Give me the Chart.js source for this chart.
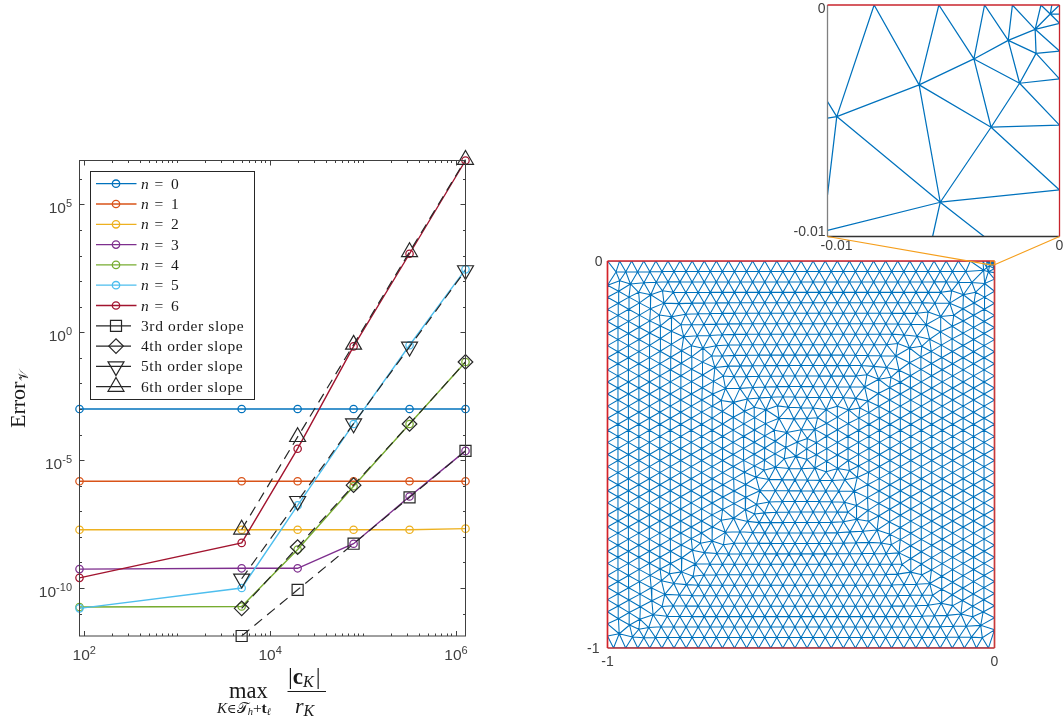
<!DOCTYPE html>
<html>
<head>
<meta charset="utf-8">
<title>Error against max |c_K|/r_K, with mesh</title>
<script src="https://cdn.jsdelivr.net/npm/chart.js@4"></script>
<style>
  html, body { margin: 0; padding: 0; background: #fff; }
  #page { position: relative; width: 1063px; height: 720px; overflow: hidden; }
  canvas { position: absolute; left: 0; top: 0; }
</style>
</head>
<body>
<div id="page">
  <canvas id="errorCanvas" width="1063" height="720"></canvas>
  <canvas id="meshCanvas" width="1063" height="720"></canvas>
  <canvas id="insetCanvas" width="1063" height="720"></canvas>
</div>
<script>
// 1. Error plot data
const ratios = [90, 5000, 20000, 80000, 320000, 1280000];

const errorN0 = [1e-3, 1e-3, 1e-3, 1e-3, 1e-3, 1e-3];
const errorN1 = [1.5e-6, 1.5e-6, 1.5e-6, 1.5e-6, 1.5e-6, 1.5e-6];
const errorN2 = [1.9e-8, 1.9e-8, 1.9e-8, 1.9e-8, 1.9e-8, 2.1e-8];
const errorN3 = [5.5e-10, 5.9e-10, 5.9e-10, 5.4e-9, 3.8e-7, 2.3e-5];
const errorN4 = [1.8e-11, 1.9e-11, 3.2e-9, 9.5e-7, 2.6e-4, 0.069];
const errorN5 = [1.6e-11, 1.0e-10, 1.7e-7, 2.6e-4, 0.31, 288];
const errorN6 = [2.5e-10, 5.8e-9, 2.8e-5, 0.28, 1175, 5.2e6];

const slope3 = [null, 1.33e-12, 8.5e-11, 5.4e-9, 3.5e-7, 2.3e-5];
const slope4 = [null, 1.6e-11, 4.0e-9, 1.05e-6, 2.6e-4, 0.069];
const slope5 = [null, 2.3e-10, 2.5e-7, 2.7e-4, 0.27, 263];
const slope6 = [null, 1.95e-8, 8.1e-5, 0.33, 1380, 5.6e6];

const seriesNames = ['n = 0', 'n = 1', 'n = 2', 'n = 3', 'n = 4', 'n = 5', 'n = 6'];
const seriesColors = ['#0072BD', '#D95319', '#EDB120', '#7E2F8E', '#77AC30', '#4DBEEE', '#A2142F'];
const slopeNames = ['3rd order slope', '4th order slope', '5th order slope', '6th order slope'];

const xMajorTicks = [1e2, 1e4, 1e6];
const xDecades = [1e2, 1e3, 1e4, 1e5, 1e6];
const xMinorSteps = [1, 2, 3, 4, 5, 6, 7, 8, 9];
const yMajorTicks = [1e5, 1, 1e-5, 1e-10];
const yMinorTicks = [1e6, 1e4, 1e3, 1e2, 1e1, 1e-1, 1e-2, 1e-3, 1e-4, 1e-6, 1e-7, 1e-8, 1e-9, 1e-11];
const yMajorLabels = ['5', '0', '-5', '-10'];
const xMajorLabels = ['2', '4', '6'];

// 2. Mesh data: rows of the structured lattice and how far each row reaches
const latticeRows = 37;
const latticeCols = 32;
const rowLeftLimit = [-1, -.993, -.975, -.890, -.864, -.864, -.838, -.804, -.748, -.748, -.748, -.701, -.701,
  -.644, -.593, -.567, -.567, -.520, -.48, -.48, -.536, -.598, -.624, -.624, -.644, -.649, -.701, -.722,
  -.779, -.779, -.804, -.838, -.864, -.869, -.890, -.941, -.972, -1];
const rowRightLimit = [0, -.056, -.056, -.107, -.133, -.140, -.158, -.197, -.218, -.269, -.269, -.329, -.334,
  -.352, -.404, -.437, -.484, -.484, -.5, -.5, -.425, -.381, -.381, -.373, -.352, -.347, -.326, -.288,
  -.269, -.226, -.197, -.184, -.133, -.083, -.081, -.056, -.026, 0];

// refined corner of the mesh, in units of 1e-3
const insetNodeX = [-10, -7.99, -5.20, -3.23, -2.03, -0.80, -0.33, 0, 0, 0, 0, 0, 0, 0, 0,
  -10, -10, -10, -10, -10, -5.47, -3.25, -9.60, -6.05, -3.69, -2.21, -1.05, -0.40, -1.01, -1.72, -2.95, -5.14];
const insetNodeY = [0, 0, 0, 0, 0, 0, 0, 0, -0.39, -0.79, -1.99, -3.19, -5.19, -7.99, -10,
  -4.17, -4.89, -8.20, -9.74, -10, -10, -10, -4.82, -3.45, -2.33, -1.53, -1.05, -0.39, -2.09, -3.38, -5.28, -8.52];
const insetEdgeFrom = [1, 1, 2, 2, 3, 3, 4, 4, 5, 5, 6, 7, 27, 27, 27, 26, 26, 26, 26, 28, 28, 28, 28, 29, 29, 29, 29, 29,
  30, 30, 30, 30, 30, 31, 31, 31, 31, 31, 31, 22, 23, 24, 22, 22, 22];
const insetEdgeTo = [22, 23, 23, 24, 24, 25, 25, 26, 26, 27, 27, 27, 8, 9, 26, 9, 25, 28, 10, 10, 25, 29, 11, 11, 25, 24, 30, 12,
  12, 24, 23, 31, 13, 13, 23, 22, 18, 20, 21, 23, 24, 25, 15, 16, 17];
// graded nodes between the corner and the lattice, in units of 1e-3
const gradedNodeX = [-20, -30, -13, -20, -28, 0, 0, -16];
const gradedNodeY = [0, 0, -13, -17, -24, -20, -30, -28];

const meshTickX = [-1, 0];
const meshTickY = [-1, 0];
const insetTickX = [-0.01, 0];
const insetTickY = [-0.01, 0];

// 3. Mesh building
const relaxPasses = 4;

function latticeNodes() {
  const xs = [], ys = [];
  const inCorner = (x, y) => x > -0.036 && y > -0.036;
  // horizontal rows
  for (let k = 0; k <= latticeRows; k++) {
    const y = -k / latticeRows;
    for (let m = 0; m <= latticeCols; m++) {
      const x = -1 + (m + (k % 2 ? 0.5 : 0)) / latticeCols;
      if (x >= rowLeftLimit[k] - 1e-9 && x <= rowRightLimit[k] + 1e-9 && !inCorner(x, y)) { xs.push(x); ys.push(y); }
    }
  }
  const rowCount = xs.length;
  // vertical columns fill what the rows leave
  for (let j = 0; j <= latticeRows; j++) {
    const x = -1 + j / latticeRows;
    for (let i = 0; i <= latticeCols; i++) {
      const y = -(i + (j % 2 ? 0.5 : 0)) / latticeCols;
      if (y < -1 || inCorner(x, y)) continue;
      const k = Math.round(-y * latticeRows);
      if (x >= rowLeftLimit[k] && x <= rowRightLimit[k]) continue;
      let clear = true;
      for (let n = 0; n < rowCount && clear; n++) {
        const dx = xs[n] - x, dy = ys[n] - y;
        if (dx * dx + dy * dy < 0.023 * 0.023) clear = false;
      }
      if (clear) { xs.push(x); ys.push(y); }
    }
  }
  insetNodeX.forEach((v, i) => { xs.push(v / 1000); ys.push(insetNodeY[i] / 1000); });
  gradedNodeX.forEach((v, i) => { xs.push(v / 1000); ys.push(gradedNodeY[i] / 1000); });
  return { xs, ys };
}

function circle(t, xs, ys) {
  const [a, b, c] = t;
  const ax = xs[a], ay = ys[a], bx = xs[b] - ax, by = ys[b] - ay, cx = xs[c] - ax, cy = ys[c] - ay;
  const d = 2 * (bx * cy - by * cx);
  if (Math.abs(d) < 1e-14) return null;
  const ux = (cy * (bx * bx + by * by) - by * (cx * cx + cy * cy)) / d;
  const uy = (bx * (cx * cx + cy * cy) - cx * (bx * bx + by * by)) / d;
  return { a, b, c, x: ux + ax, y: uy + ay, r2: ux * ux + uy * uy };
}

// Bowyer-Watson joins the lattices along their seams, then the seams are relaxed
function meshEdges(nodes) {
  const xs = nodes.xs.slice(), ys = nodes.ys.slice();
  const n = xs.length;
  xs.push(-200, 200, 0);
  ys.push(-200, -200, 200);
  let tris = [circle([n, n + 1, n + 2], xs, ys)];
  for (let p = 0; p < n; p++) {
    const edges = new Map(), keep = [];
    for (const t of tris) {
      const dx = xs[p] - t.x, dy = ys[p] - t.y;
      if (dx * dx + dy * dy < t.r2) {
        for (const [u, v] of [[t.a, t.b], [t.b, t.c], [t.c, t.a]]) {
          const key = Math.min(u, v) + '_' + Math.max(u, v);
          edges.set(key, edges.has(key) ? null : [u, v]);
        }
      } else keep.push(t);
    }
    for (const e of edges.values()) {
      if (!e) continue;
      const t = circle([e[0], e[1], p], xs, ys);
      if (t) keep.push(t);
    }
    tris = keep;
  }
  const seen = new Set(), pairs = [];
  const near = Array.from({ length: n }, () => []);
  for (const t of tris) {
    if (t.a >= n || t.b >= n || t.c >= n) continue;
    for (const [u, v] of [[t.a, t.b], [t.b, t.c], [t.c, t.a]]) {
      const key = Math.min(u, v) + '_' + Math.max(u, v);
      if (seen.has(key)) continue;
      seen.add(key);
      pairs.push([u, v]);
      near[u].push(v);
      near[v].push(u);
    }
  }
  const pinned = i => xs[i] === 0 || xs[i] === -1 || ys[i] === 0 || ys[i] === -1 || (xs[i] > -0.05 && ys[i] > -0.05);
  for (let pass = 0; pass < relaxPasses; pass++) {
    const nx = xs.slice(), ny = ys.slice();
    for (let i = 0; i < n; i++) {
      if (pinned(i) || !near[i].length) continue;
      nx[i] = near[i].reduce((s, j) => s + xs[j], 0) / near[i].length;
      ny[i] = near[i].reduce((s, j) => s + ys[j], 0) / near[i].length;
    }
    for (let i = 0; i < n; i++) { xs[i] = nx[i]; ys[i] = ny[i]; }
  }
  const out = [];
  pairs.forEach(([u, v]) => out.push({ x: xs[u], y: ys[u] }, { x: xs[v], y: ys[v] }, { x: NaN, y: NaN }));
  return out;
}

function insetEdges() {
  const out = [];
  insetEdgeFrom.forEach((u, i) => {
    const v = insetEdgeTo[i];
    out.push({ x: insetNodeX[u] / 1000, y: insetNodeY[u] / 1000 }, { x: insetNodeX[v] / 1000, y: insetNodeY[v] / 1000 }, { x: NaN, y: NaN });
  });
  return out;
}

// 4. Small drawing helpers
const axisGray = '#404040';
const sansFont = '"Liberation Sans"';
const serifFont = '"Liberation Serif"';

function drawRuns(ctx, x, y, runs) {
  ctx.textAlign = 'left';
  ctx.textBaseline = 'alphabetic';
  for (const r of runs) {
    ctx.font = r.f;
    ctx.fillText(r.t, x + (r.dx || 0), y + (r.dy || 0));
    x += ctx.measureText(r.t).width + (r.dx || 0);
  }
  return x;
}

function tenTo(ctx, x, y, exp, align) {
  // "10" with the exponent raised; x is the right end or the centre
  ctx.font = '15.5px ' + sansFont;
  const w10 = ctx.measureText('10').width;
  ctx.font = '11px ' + sansFont;
  const wExp = ctx.measureText(exp).width;
  const left = align === 'right' ? x - w10 - wExp : x - (w10 + wExp) / 2;
  drawRuns(ctx, left, y, [{ t: '10', f: '15.5px ' + sansFont }, { t: exp, f: '11px ' + sansFont, dy: -6 }]);
}

const slopeStyles = [
  { pointStyle: 'rect', radius: 7.8, rotation: 0 },
  { pointStyle: 'rectRot', radius: 7.3, rotation: 0 },
  { pointStyle: 'triangle', radius: 9.2, rotation: 180 },
  { pointStyle: 'triangle', radius: 9.2, rotation: 0 }
];

// 5. Left plot: box, inside ticks, labels, legend
const errorDecor = {
  id: 'errorDecor',
  afterDraw(chart) {
    const { ctx, chartArea: a, scales: { x, y } } = chart;
    ctx.save();
    ctx.strokeStyle = axisGray;
    ctx.lineWidth = 1;
    ctx.strokeRect(a.left, a.top, a.right - a.left, a.bottom - a.top);
    ctx.beginPath();
    const xTick = (v, len) => {
      const p = Math.round(x.getPixelForValue(v)) + 0.5;
      ctx.moveTo(p, a.bottom); ctx.lineTo(p, a.bottom - len);
      ctx.moveTo(p, a.top); ctx.lineTo(p, a.top + len);
    };
    const yTick = (v, len) => {
      const p = Math.round(y.getPixelForValue(v)) + 0.5;
      ctx.moveTo(a.left, p); ctx.lineTo(a.left + len, p);
      ctx.moveTo(a.right, p); ctx.lineTo(a.right - len, p);
    };
    xDecades.forEach(d => xMinorSteps.forEach(s => {
      const v = d * s;
      if (v > x.min && v < x.max && !xMajorTicks.includes(v)) xTick(v, 2.5);
    }));
    xMajorTicks.forEach(v => xTick(v, 5));
    yMinorTicks.forEach(v => yTick(v, 2.5));
    yMajorTicks.forEach(v => yTick(v, 5));
    ctx.stroke();

    ctx.fillStyle = axisGray;
    yMajorTicks.forEach((v, i) => tenTo(ctx, 72, y.getPixelForValue(v) + 8.5, yMajorLabels[i], 'right'));
    xMajorTicks.forEach((v, i) => tenTo(ctx, x.getPixelForValue(v) + 0.5, 660, xMajorLabels[i], 'center'));

    // axis titles
    ctx.fillStyle = '#1a1a1a';
    ctx.save();
    ctx.translate(25, 428);
    ctx.rotate(-Math.PI / 2);
    drawRuns(ctx, 0, 0, [{ t: 'Error', f: '22px ' + serifFont }, { t: '𝒱', f: '13px "DejaVu Serif"', dy: 3, dx: 1 }]);
    ctx.restore();
    drawRuns(ctx, 229, 697.5, [{ t: 'max', f: '22.5px ' + serifFont }]);
    drawRuns(ctx, 217, 712.5, [
      { t: 'K', f: 'italic 15px ' + serifFont },
      { t: '∈', f: '13px "DejaVu Serif"' },
      { t: '𝒯', f: '15px "DejaVu Serif"' },
      { t: 'h', f: 'italic 10.5px ' + serifFont, dy: 2 },
      { t: '+', f: '15.5px ' + serifFont },
      { t: 't', f: 'bold 15.5px ' + serifFont },
      { t: 'ℓ', f: 'italic 10px "DejaVu Serif"', dy: 2 }
    ]);
    drawRuns(ctx, 288, 684, [
      { t: '|', f: '24px ' + serifFont },
      { t: 'c', f: 'bold 23px ' + serifFont },
      { t: 'K', f: 'italic 16px ' + serifFont, dy: 3 },
      { t: '|', f: '24px ' + serifFont, dx: 2 }
    ]);
    ctx.strokeStyle = '#1a1a1a';
    ctx.lineWidth = 1;
    ctx.beginPath();
    ctx.moveTo(287.5, 691.5); ctx.lineTo(326, 691.5);
    ctx.stroke();
    drawRuns(ctx, 295, 713, [
      { t: 'r', f: 'italic 22px ' + serifFont },
      { t: 'K', f: 'italic 16px ' + serifFont, dy: 3 }
    ]);

    // legend
    const left = 90.5, top = 171.5, right = 254.5, bottom = 399.5;
    ctx.fillStyle = '#fff';
    ctx.fillRect(left, top, right - left, bottom - top);
    ctx.strokeStyle = '#262626';
    ctx.lineWidth = 1;
    ctx.strokeRect(left, top, right - left, bottom - top);
    const rowHeight = 20.3, firstRow = 183.7;
    seriesNames.forEach((name, i) => {
      const ry = firstRow + i * rowHeight;
      ctx.strokeStyle = seriesColors[i];
      ctx.lineWidth = 1.3;
      ctx.beginPath(); ctx.moveTo(96, ry); ctx.lineTo(136.5, ry); ctx.stroke();
      ctx.beginPath(); ctx.arc(116, ry, 3.7, 0, Math.PI * 2); ctx.stroke();
      ctx.fillStyle = '#1a1a1a';
      const [sym, eq, val] = name.split(' ');
      ctx.font = 'italic 15.5px ' + serifFont;
      ctx.textAlign = 'left'; ctx.textBaseline = 'alphabetic';
      ctx.fillText(sym, 141, ry + 5);
      ctx.font = '15.5px ' + serifFont;
      ctx.fillText(eq, 154.5, ry + 5);
      ctx.fillText(val, 171, ry + 5);
    });
    slopeNames.forEach((name, i) => {
      const ry = firstRow + (i + 7) * rowHeight;
      ctx.strokeStyle = '#262626';
      ctx.fillStyle = 'rgba(0,0,0,0)';
      ctx.lineWidth = 1.2;
      ctx.beginPath(); ctx.moveTo(96, ry); ctx.lineTo(131, ry); ctx.stroke();
      Chart.helpers.drawPoint(ctx, Object.assign({ borderWidth: 1.2 }, slopeStyles[i]), 116, ry);
      ctx.fillStyle = '#1a1a1a';
      ctx.letterSpacing = '0.62px';
      drawRuns(ctx, 141, ry + 5, [{ t: name, f: '15.5px ' + serifFont }]);
      ctx.letterSpacing = '0px';
    });
    ctx.restore();
  }
};

function frame(ctx, a, top, right, bottom, left) {
  const side = (c, x1, y1, x2, y2) => {
    ctx.strokeStyle = c;
    ctx.beginPath(); ctx.moveTo(x1, y1); ctx.lineTo(x2, y2); ctx.stroke();
  };
  side(left, a.left, a.top, a.left, a.bottom);
  side(bottom, a.left, a.bottom, a.right, a.bottom);
  side(top, a.left, a.top, a.right, a.top);
  side(right, a.right, a.top, a.right, a.bottom);
}

function axisText(ctx, text, x, y, align) {
  ctx.fillStyle = axisGray;
  ctx.font = '14px ' + sansFont;
  ctx.textAlign = align;
  ctx.textBaseline = 'middle';
  ctx.fillText(text, x, y);
}

// 6. Mesh plot decorations
const meshDecor = {
  id: 'meshDecor',
  afterDraw(chart) {
    const { ctx, chartArea: a, scales: { x, y } } = chart;
    ctx.save();
    ctx.lineWidth = 1.7;
    frame(ctx, a, '#d4232a', '#c83a3a', '#b52a30', '#d4232a');
    ctx.lineWidth = 1;
    ctx.strokeStyle = '#F59E1B';
    const bx = x.getPixelForValue(insetTickX[0]), by = y.getPixelForValue(insetTickY[0]);
    ctx.strokeRect(bx, y.getPixelForValue(0), x.getPixelForValue(0) - bx, by - y.getPixelForValue(0));
    meshTickY.forEach(v => axisText(ctx, String(v), a.left - (v === 0 ? 5 : 8), y.getPixelForValue(v) + 1, 'right'));
    meshTickX.forEach(v => axisText(ctx, String(v), x.getPixelForValue(v), a.bottom + 14, 'center'));
    ctx.restore();
  }
};

const insetDecor = {
  id: 'insetDecor',
  afterDraw(chart) {
    const { ctx, chartArea: a, scales: { x, y } } = chart;
    const mesh = meshChart.scales;
    ctx.save();
    ctx.lineWidth = 1.3;
    frame(ctx, a, '#c8242c', '#c8242c', '#333333', '#808080');
    insetTickY.forEach(v => axisText(ctx, String(v), a.left - 2, y.getPixelForValue(v) + (v === 0 ? 4 : -4), 'right'));
    insetTickX.forEach(v => axisText(ctx, String(v), x.getPixelForValue(v) + (v === 0 ? 0 : 9), a.bottom + 10, 'center'));
    ctx.strokeStyle = '#F59E1B';
    ctx.lineWidth = 1.1;
    ctx.beginPath();
    insetTickX.forEach(v => {
      ctx.moveTo(x.getPixelForValue(v), a.bottom);
      ctx.lineTo(mesh.x.getPixelForValue(v), mesh.y.getPixelForValue(insetTickY[0]));
    });
    ctx.stroke();
    ctx.restore();
  }
};

// 7. Charts. Each canvas covers the page, the padding places the plot box
function pad(left, top, right, bottom) {
  return { left, top, right: 1063 - right, bottom: 720 - bottom };
}
const hiddenScale = (type, min, max) => ({ type, min, max, display: false });
const baseOptions = (padding, x, y) => ({
  responsive: false,
  animation: false,
  events: [],
  layout: { padding },
  scales: { x, y },
  plugins: { legend: { display: false }, tooltip: { enabled: false } }
});

const errorSeries = [errorN0, errorN1, errorN2, errorN3, errorN4, errorN5, errorN6];
const slopeSeries = [slope3, slope4, slope5, slope6];
const points = vals => ratios.map((r, i) => ({ x: r, y: vals[i] }));

const errorDatasets = errorSeries.map((vals, i) => ({
  label: seriesNames[i],
  data: points(vals),
  showLine: true,
  clip: false,
  order: 8 - i,
  borderColor: seriesColors[i],
  borderWidth: 1.4,
  pointStyle: 'circle',
  pointRadius: 3.7,
  pointBorderColor: seriesColors[i],
  pointBorderWidth: 1.25,
  pointBackgroundColor: 'rgba(0,0,0,0)'
})).concat(slopeSeries.map((vals, i) => ({
  label: slopeNames[i],
  data: points(vals),
  showLine: true,
  clip: false,
  order: 0,
  borderColor: '#262626',
  borderWidth: 1.2,
  borderDash: [10, 6.5],
  pointStyle: slopeStyles[i].pointStyle,
  pointRotation: slopeStyles[i].rotation,
  pointRadius: slopeStyles[i].radius,
  pointBorderColor: '#262626',
  pointBorderWidth: 1.2,
  pointBackgroundColor: 'rgba(0,0,0,0)'
})));

new Chart(document.getElementById('errorCanvas'), {
  type: 'scatter',
  data: { datasets: errorDatasets },
  options: baseOptions(pad(79.5, 160.5, 465.5, 636),
    hiddenScale('logarithmic', 90, 1280000), hiddenScale('logarithmic', 1.33e-12, 5.2e6)),
  plugins: [errorDecor]
});

const meshLine = (data, width) => ({
  data,
  showLine: true,
  spanGaps: false,
  borderColor: '#0072BD',
  borderWidth: width,
  pointRadius: 0
});

const meshChart = new Chart(document.getElementById('meshCanvas'), {
  type: 'scatter',
  data: { datasets: [meshLine(meshEdges(latticeNodes()), 1.05)] },
  options: baseOptions(pad(607.5, 261, 994.5, 648),
    hiddenScale('linear', -1, 0), hiddenScale('linear', -1, 0)),
  plugins: [meshDecor]
});

new Chart(document.getElementById('insetCanvas'), {
  type: 'scatter',
  data: { datasets: [meshLine(insetEdges(), 1.25)] },
  options: baseOptions(pad(827.5, 5, 1059.5, 236.5),
    hiddenScale('linear', -0.01, 0), hiddenScale('linear', -0.01, 0)),
  plugins: [insetDecor]
});
</script>
</body>
</html>
